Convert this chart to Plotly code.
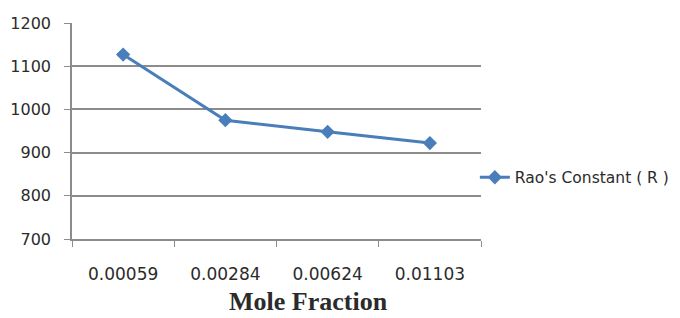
import plotly.graph_objects as go

categories = ["0.00059", "0.00284", "0.00624", "0.01103"]
rao_constant = [1127, 975, 948, 922]
y_ticks = [700, 800, 900, 1000, 1100, 1200]

blue = "#4a7ebb"
grid = "#8c8c8c"
txt = "#2b2b2b"

fig = go.Figure()
fig.add_trace(go.Scatter(
    x=categories, y=rao_constant, mode="lines+markers",
    name="Rao's Constant ( R )",
    line=dict(color=blue, width=3),
    marker=dict(symbol="diamond", size=11, color=blue),
))

# page body has an 8px margin, so the figure is sized/offset to compensate
fig.update_layout(
    width=672, height=310,
    margin=dict(l=64, r=199, t=15, b=79, autoexpand=False),
    paper_bgcolor="white", plot_bgcolor="white",
    font=dict(family="DejaVu Sans, sans-serif", color=txt, size=14),
    showlegend=True,
    legend=dict(x=0.985, xanchor="left", y=0.284, yanchor="middle",
                font=dict(size=15.5, color=txt), bgcolor="rgba(0,0,0,0)"),
    xaxis=dict(
        type="category", range=[-0.5, 3.5], automargin=False,
        tickson="boundaries", ticks="outside", ticklen=6, tickcolor=grid,
        showline=True, linecolor=grid, linewidth=1.5,
        showgrid=False, tickfont=dict(size=17, color=txt),
        ticklabelstandoff=19,
    ),
    yaxis=dict(
        range=[700, 1200], tickvals=y_ticks, ticks="outside", ticklen=6,
        automargin=False,
        tickcolor=grid, showline=True, linecolor=grid, linewidth=1.5,
        showgrid=True, gridcolor=grid, gridwidth=1.5,
        tickfont=dict(size=16, color=txt), zeroline=False,
        ticklabelstandoff=10,
    ),
    annotations=[dict(
        text="<b>Mole Fraction</b>", x=0.579, y=-0.29, xref="paper", yref="paper",
        xanchor="center", yanchor="middle", showarrow=False,
        font=dict(family="Liberation Serif, serif", size=26, color=txt),
    )],
)

fig.write_html("out.html")
